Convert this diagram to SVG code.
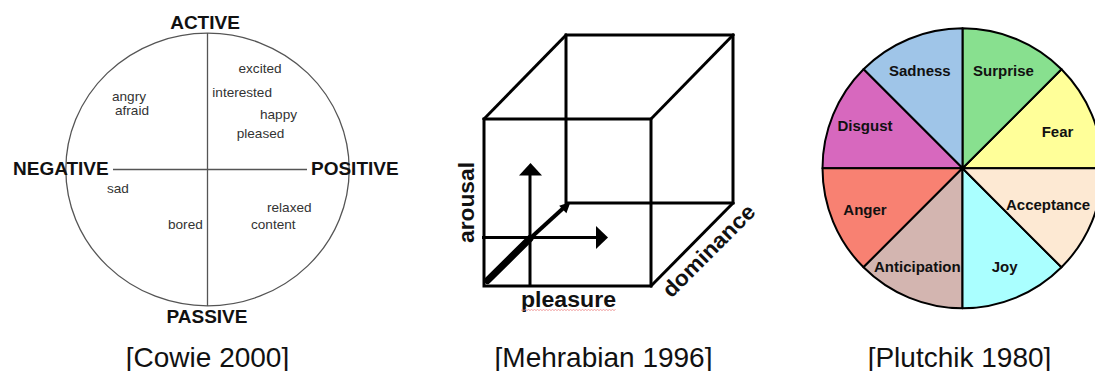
<svg xmlns="http://www.w3.org/2000/svg" width="1095" height="371" viewBox="0 0 1095 371">
<style>
.big{font-family:"Liberation Sans",Arial,sans-serif;font-weight:bold;font-size:19px;fill:#111}
.sm{font-family:"Liberation Sans",Arial,sans-serif;font-size:13.6px;fill:#333}
.ax{font-family:"Liberation Sans",Arial,sans-serif;font-weight:bold;font-size:22px;fill:#111}
.pl{font-family:"Liberation Sans",Arial,sans-serif;font-weight:bold;font-size:15px;fill:#111}
.cap{font-family:"Liberation Sans",Arial,sans-serif;font-size:28px;fill:#111;text-anchor:middle}
.thin{stroke:#555;stroke-width:1.3;fill:none}
.cube{stroke:#000;stroke-width:3;fill:none;stroke-linecap:square}
.sec{stroke:#000;stroke-width:2;stroke-linejoin:round}
</style>
<rect width="1095" height="371" fill="#fff"/>

<g id="cowie">
  <ellipse class="thin" cx="207.5" cy="169.5" rx="141.7" ry="136.3"/>
  <line class="thin" x1="207.5" y1="33" x2="207.5" y2="306"/>
  <line class="thin" x1="113" y1="169.5" x2="307" y2="169.5"/>
  <text class="big" x="205" y="29.3" text-anchor="middle">ACTIVE</text>
  <text class="big" x="13" y="175">NEGATIVE</text>
  <text class="big" x="311" y="175">POSITIVE</text>
  <text class="big" x="207" y="323" text-anchor="middle">PASSIVE</text>
  <text class="sm" x="238.5" y="73.3">excited</text>
  <text class="sm" x="212.3" y="97.3">interested</text>
  <text class="sm" x="260" y="118.8">happy</text>
  <text class="sm" x="236.7" y="138">pleased</text>
  <text class="sm" x="112" y="101">angry</text>
  <text class="sm" x="115" y="115">afraid</text>
  <text class="sm" x="107" y="193">sad</text>
  <text class="sm" x="168" y="229">bored</text>
  <text class="sm" x="267" y="212">relaxed</text>
  <text class="sm" x="251" y="229">content</text>
</g>

<g id="mehrabian">
  <rect class="cube" x="484" y="119" width="167" height="167"/>
  <polyline class="cube" points="566,203 566,35 733,35 733,203 566,203"/>
  <line class="cube" x1="484" y1="119" x2="566" y2="35"/>
  <line class="cube" x1="651" y1="119" x2="733" y2="35"/>
  <line class="cube" x1="651" y1="286" x2="733" y2="203"/>
  <g id="axes">
    <line x1="530" y1="286" x2="530" y2="174" stroke="#000" stroke-width="3"/>
    <polygon points="519,175.5 542,175.5 530.5,163" fill="#000"/>
    <line x1="482" y1="237.5" x2="597" y2="237.5" stroke="#000" stroke-width="3"/>
    <polygon points="596,226 596,249 608,237.5" fill="#000"/>
    <line x1="487.5" y1="280.5" x2="530" y2="238.5" stroke="#000" stroke-width="7" stroke-linecap="round"/>
    <line x1="530" y1="238.5" x2="564" y2="207.5" stroke="#000" stroke-width="4"/>
    <polygon points="570.5,202 566.4,213.2 559.2,205.8" fill="#000"/>
  </g>
  <text class="ax" transform="translate(474,202.5) rotate(-90)" text-anchor="middle" textLength="81" lengthAdjust="spacingAndGlyphs">arousal</text>
  <text class="ax" x="521" y="307" textLength="95" lengthAdjust="spacingAndGlyphs">pleasure</text>
  <path d="M521,310.5 l1.5,-1 l1.5,1 l1.5,-1 l1.5,1 l1.5,-1 l1.5,1 l1.5,-1 l1.5,1 l1.5,-1 l1.5,1 l1.5,-1 l1.5,1 l1.5,-1 l1.5,1 l1.5,-1 l1.5,1 l1.5,-1 l1.5,1 l1.5,-1 l1.5,1 l1.5,-1 l1.5,1 l1.5,-1 l1.5,1 l1.5,-1 l1.5,1 l1.5,-1 l1.5,1 l1.5,-1 l1.5,1 l1.5,-1 l1.5,1 l1.5,-1 l1.5,1 l1.5,-1 l1.5,1 l1.5,-1 l1.5,1 l1.5,-1 l1.5,1 l1.5,-1 l1.5,1 l1.5,-1 l1.5,1 l1.5,-1 l1.5,1 l1.5,-1 l1.5,1 l1.5,-1 l1.5,1 l1.5,-1 l1.5,1 l1.5,-1 l1.5,1 l1.5,-1 l1.5,1 l1.5,-1 l1.5,1 l1.5,-1 l1.5,1 l1.5,-1 l1.5,1 l1.5,-1" fill="none" stroke="#e88" stroke-width="0.8"/>
  <text class="ax" transform="translate(714,256) rotate(-45)" text-anchor="middle" textLength="121" lengthAdjust="spacingAndGlyphs">dominance</text>
</g>

<g id="plutchik">
  <path class="sec" fill="#FFFF99" d="M962.5,168.3 L1061.5,69.3 A140,140 0 0 1 1102.5,168.3 Z"/>
  <path class="sec" fill="#88E08F" d="M962.5,168.3 L962.5,28.3 A140,140 0 0 1 1061.5,69.3 Z"/>
  <path class="sec" fill="#9FC5E8" d="M962.5,168.3 L863.5,69.3 A140,140 0 0 1 962.5,28.3 Z"/>
  <path class="sec" fill="#D768BE" d="M962.5,168.3 L822.5,168.3 A140,140 0 0 1 863.5,69.3 Z"/>
  <path class="sec" fill="#F88172" d="M962.5,168.3 L863.5,267.3 A140,140 0 0 1 822.5,168.3 Z"/>
  <path class="sec" fill="#D3B5B0" d="M962.5,168.3 L962.5,308.3 A140,140 0 0 1 863.5,267.3 Z"/>
  <path class="sec" fill="#AAFFFF" d="M962.5,168.3 L1061.5,267.3 A140,140 0 0 1 962.5,308.3 Z"/>
  <path class="sec" fill="#FDE9D3" d="M962.5,168.3 L1102.5,168.3 A140,140 0 0 1 1061.5,267.3 Z"/>
  <text class="pl" x="889" y="75.7">Sadness</text>
  <text class="pl" x="973" y="75.7">Surprise</text>
  <text class="pl" x="837.5" y="131.3">Disgust</text>
  <text class="pl" x="1041.7" y="136.7">Fear</text>
  <text class="pl" x="843.3" y="215">Anger</text>
  <text class="pl" x="1006" y="210">Acceptance</text>
  <text class="pl" x="874" y="271.7">Anticipation</text>
  <text class="pl" x="991.7" y="271.7">Joy</text>
</g>

<g id="captions">
  <text class="cap" x="207.5" y="367">[Cowie 2000]</text>
  <text class="cap" x="603.5" y="367">[Mehrabian 1996]</text>
  <text class="cap" x="959.5" y="367">[Plutchik 1980]</text>
</g>
</svg>
